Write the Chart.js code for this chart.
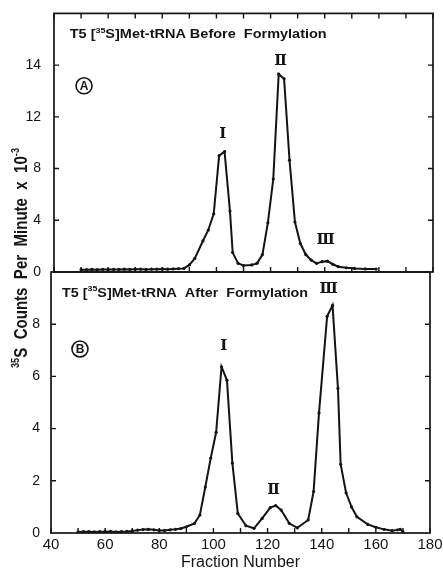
<!DOCTYPE html>
<html>
<head>
<meta charset="utf-8">
<script src="https://cdn.jsdelivr.net/npm/chart.js@4.4.0/dist/chart.umd.min.js"></script>
<style>
  html, body { margin: 0; padding: 0; background: #fff; }
  #wrap { position: relative; width: 443px; height: 569px; background: #fff; }
  #wrap canvas { position: absolute; left: 0; top: 0; }
</style>
</head>
<body>
<div id="wrap">
  <canvas id="panelB" width="443" height="569"></canvas>
  <canvas id="panelA" width="443" height="569"></canvas>
</div>
<script>
// ---- Panel A: T5 [35S]Met-tRNA before formylation ----
const topFractions = [50, 52, 54, 56, 58, 60, 62, 64, 66, 68, 70, 72, 74, 76, 78, 80, 82, 84, 86, 88,
  90, 92, 95, 97, 99, 101, 103, 105, 106, 108, 110, 113, 115, 117, 119, 121, 123, 125, 127, 129,
  131, 133, 135, 137, 139, 141, 143, 145, 148, 151, 155, 159];
const topCounts = [0.18, 0.18, 0.2, 0.18, 0.2, 0.2, 0.2, 0.2, 0.22, 0.2, 0.22, 0.22, 0.2, 0.22, 0.22, 0.24, 0.22, 0.24, 0.26, 0.28,
  0.55, 1.05, 2.4, 3.25, 4.5, 9.0, 9.31, 4.71, 1.5, 0.67, 0.5, 0.55, 0.67, 1.35, 3.8, 7.19, 15.3, 14.94, 8.65, 3.86,
  2.2, 1.35, 0.92, 0.67, 0.8, 0.84, 0.6, 0.41, 0.33, 0.28, 0.24, 0.23];

// ---- Panel B: T5 [35S]Met-tRNA after formylation ----
const bottomFractions = [50, 52, 54, 56, 58, 60, 62, 64, 66, 68, 70, 72, 74, 76, 78, 80, 82, 84, 86, 88,
  90, 93, 95, 97, 99, 101, 103, 105, 107, 109, 112, 115, 118, 121, 123, 125, 128, 131, 135, 137,
  139, 142, 144, 146, 147, 149, 151, 153, 157, 160, 163, 166, 168, 169, 170];
const bottomCounts = [0.04, 0.05, 0.05, 0.04, 0.05, 0.05, 0.06, 0.04, 0.05, 0.06, 0.08, 0.11, 0.13, 0.14, 0.12, 0.1, 0.1, 0.12, 0.14, 0.17,
  0.24, 0.37, 0.69, 1.76, 2.87, 3.86, 6.37, 5.85, 2.68, 0.75, 0.28, 0.18, 0.56, 0.97, 1.05, 0.88, 0.37, 0.2, 0.5, 1.59,
  4.6, 8.3, 8.72, 5.54, 2.63, 1.54, 1.0, 0.62, 0.33, 0.22, 0.14, 0.09, 0.12, 0.14, 0.05];

// ---- Axis ticks ----
const xLabelValues = [40, 60, 80, 100, 120, 140, 160, 180];
const xMarkValues = [40, 50, 60, 70, 80, 90, 100, 110, 120, 130, 140, 150, 160, 170, 180];
const topTickValues = [0, 4, 8, 12, 16];
const topTickLabels = ['0', '4', '8', '12', '14'];
const bottomTickValues = [0, 2, 4, 6, 8];
const bottomTickLabels = ['0', '2', '4', '6', '8'];

// ---- Text annotations (placed in data coordinates: fraction, counts) ----
const topPeakNames = ['Ⅰ', 'Ⅱ', 'Ⅲ'];
const topPeakAt = [[102.3, 10.7], [123.7, 16.3], [140.3, 2.5]];
const bottomPeakNames = ['Ⅰ', 'Ⅱ', 'Ⅲ'];
const bottomPeakAt = [[103.8, 7.15], [122.2, 1.65], [142.6, 9.33]];

const INK = '#141414';
const SANS = '"Liberation Sans", Arial, sans-serif';
const ROMAN = '"DejaVu Serif", "DejaVu Sans", serif';

function pts(xs, ys) { return xs.map((x, i) => ({ x: x, y: ys[i] })); }

// Draws a run list such as [['T5 [', 0], ['35', 1], ['S]...', 0]] with superscripts,
// squeezed/stretched horizontally to the requested total width.
function drawRuns(ctx, runs, size, weight, width) {
  const fontFor = sup => `${weight} ${sup ? Math.round(size * 0.62) : size}px ${SANS}`;
  let total = 0;
  runs.forEach(([t, sup]) => { ctx.font = fontFor(sup); total += ctx.measureText(t).width; });
  const k = width ? width / total : 1;
  ctx.save();
  ctx.scale(k, 1);
  ctx.textBaseline = 'alphabetic';
  ctx.textAlign = 'left';
  let cx = 0;
  runs.forEach(([t, sup]) => {
    ctx.font = fontFor(sup);
    ctx.fillText(t, cx, sup ? -size * 0.42 : 0);
    cx += ctx.measureText(t).width;
  });
  ctx.restore();
}

function circledLetter(ctx, letter, x, y) {
  ctx.save();
  ctx.lineWidth = 1.6;
  ctx.strokeStyle = INK;
  ctx.beginPath();
  ctx.arc(x, y, 8, 0, Math.PI * 2);
  ctx.stroke();
  ctx.font = `bold 12px ${SANS}`;
  ctx.textAlign = 'center';
  ctx.textBaseline = 'middle';
  ctx.fillText(letter, x, y + 0.5);
  ctx.restore();
}

// Frame, inward tick marks and in-panel labels
const panelDecor = {
  id: 'panelDecor',
  afterDraw(chart, args, opts) {
    const { ctx, chartArea: a } = chart;
    const xs = chart.scales.x, ys = chart.scales.y;
    ctx.save();
    ctx.fillStyle = INK;
    ctx.strokeStyle = INK;
    ctx.lineWidth = 1.7;
    ctx.strokeRect(a.left, a.top, a.right - a.left, a.bottom - a.top);
    const L = 5;
    ctx.lineWidth = 1.4;
    ctx.beginPath();
    xMarkValues.forEach(v => {
      const px = xs.getPixelForValue(v);
      if (opts.topMarks) { ctx.moveTo(px, a.top); ctx.lineTo(px, a.top + L); }
      ctx.moveTo(px, a.bottom); ctx.lineTo(px, a.bottom - L);
    });
    opts.yMarks.forEach(v => {
      const py = ys.getPixelForValue(v);
      ctx.moveTo(a.left, py); ctx.lineTo(a.left + L, py);
      ctx.moveTo(a.right, py); ctx.lineTo(a.right - L, py);
    });
    ctx.stroke();

    // panel heading
    ctx.save();
    ctx.translate(xs.getPixelForValue(opts.heading.at[0]), ys.getPixelForValue(opts.heading.at[1]));
    drawRuns(ctx, opts.heading.runs, 13, 'bold', opts.heading.width);
    ctx.restore();

    // panel letter
    circledLetter(ctx, opts.letter.text, xs.getPixelForValue(opts.letter.at[0]), ys.getPixelForValue(opts.letter.at[1]));

    // peak names
    ctx.font = `bold 15px ${ROMAN}`;
    ctx.textAlign = 'center';
    ctx.textBaseline = 'middle';
    opts.peakNames.forEach((n, i) => {
      const [f, c] = opts.peakAt[i];
      ctx.save();
      ctx.translate(xs.getPixelForValue(f), ys.getPixelForValue(c));
      ctx.fillText(n, 0, 0);
      ctx.restore();
    });

    // shared vertical axis title
    if (opts.axisTitle) {
      ctx.save();
      ctx.translate(27, 368);
      ctx.rotate(-Math.PI / 2);
      drawRuns(ctx, [['35', 1], ['S  Counts  Per  Minute  x  10', 0], ['-3', 1]], 18, 'bold', 220);
      ctx.restore();
    }
    ctx.restore();
  }
};

function lineDataset(xs, ys) {
  return {
    data: pts(xs, ys),
    borderColor: INK,
    backgroundColor: INK,
    borderWidth: 2,
    pointRadius: 1.6,
    pointBorderWidth: 0,
    pointBackgroundColor: INK,
    tension: 0,
    fill: false
  };
}

Chart.defaults.color = INK;
Chart.defaults.font.family = SANS;

// Upper panel
new Chart(document.getElementById('panelA'), {
  type: 'line',
  data: { datasets: [lineDataset(topFractions, topCounts)] },
  options: {
    responsive: false,
    animation: false,
    events: [],
    layout: { padding: { left: 0, right: 10, top: 9, bottom: 297 } },
    plugins: {
      legend: { display: false },
      tooltip: { enabled: false },
      panelDecor: {
        topMarks: true,
        yMarks: topTickValues.slice(1),
        heading: { at: [45.8, 18.1], width: 257, runs: [['T5 [', 0], ['35', 1], ['S]Met-tRNA Before  Formylation', 0]] },
        letter: { text: 'A', at: [51.1, 14.4] },
        peakNames: topPeakNames,
        peakAt: topPeakAt
      }
    },
    scales: {
      x: { type: 'linear', min: 40, max: 180, display: false },
      y: {
        type: 'linear', min: 0, max: 20,
        grid: { display: false }, border: { display: false },
        afterBuildTicks: s => { s.ticks = topTickValues.map(v => ({ value: v })); },
        afterFit: s => { s.width = 54; },
        ticks: {
          padding: 5,
          font: { size: 14 },
          color: INK,
          callback: (v) => topTickLabels[topTickValues.indexOf(v)]
        }
      }
    }
  },
  plugins: [panelDecor]
});

// Lower panel
new Chart(document.getElementById('panelB'), {
  type: 'line',
  data: { datasets: [lineDataset(bottomFractions, bottomCounts)] },
  options: {
    responsive: false,
    animation: false,
    events: [],
    layout: { padding: { left: 0, right: 13, top: 272, bottom: 0 } },
    plugins: {
      legend: { display: false },
      tooltip: { enabled: false },
      panelDecor: {
        topMarks: false,
        yMarks: bottomTickValues.slice(1),
        heading: { at: [44.1, 9.05], width: 246, runs: [['T5 [', 0], ['35', 1], ['S]Met-tRNA  After  Formylation', 0]] },
        letter: { text: 'B', at: [50.7, 7.05] },
        peakNames: bottomPeakNames,
        peakAt: bottomPeakAt,
        axisTitle: true
      }
    },
    scales: {
      x: {
        type: 'linear', min: 40, max: 180,
        grid: { display: false }, border: { display: false },
        afterBuildTicks: s => { s.ticks = xLabelValues.map(v => ({ value: v })); },
        afterFit: s => { s.height = 36; },
        ticks: { padding: -5, font: { size: 15 }, color: INK, maxRotation: 0, autoSkip: false },
        title: { display: true, text: 'Fraction Number', font: { size: 16, lineHeight: 0.75 }, color: INK, padding: { top: 0, bottom: 0 } }
      },
      y: {
        type: 'linear', min: 0, max: 10,
        grid: { display: false }, border: { display: false },
        afterBuildTicks: s => { s.ticks = bottomTickValues.map(v => ({ value: v })); },
        afterFit: s => { s.width = 51; },
        ticks: {
          padding: 3,
          font: { size: 14 },
          color: INK,
          callback: (v) => bottomTickLabels[bottomTickValues.indexOf(v)]
        }
      }
    }
  },
  plugins: [panelDecor]
});
</script>
</body>
</html>
